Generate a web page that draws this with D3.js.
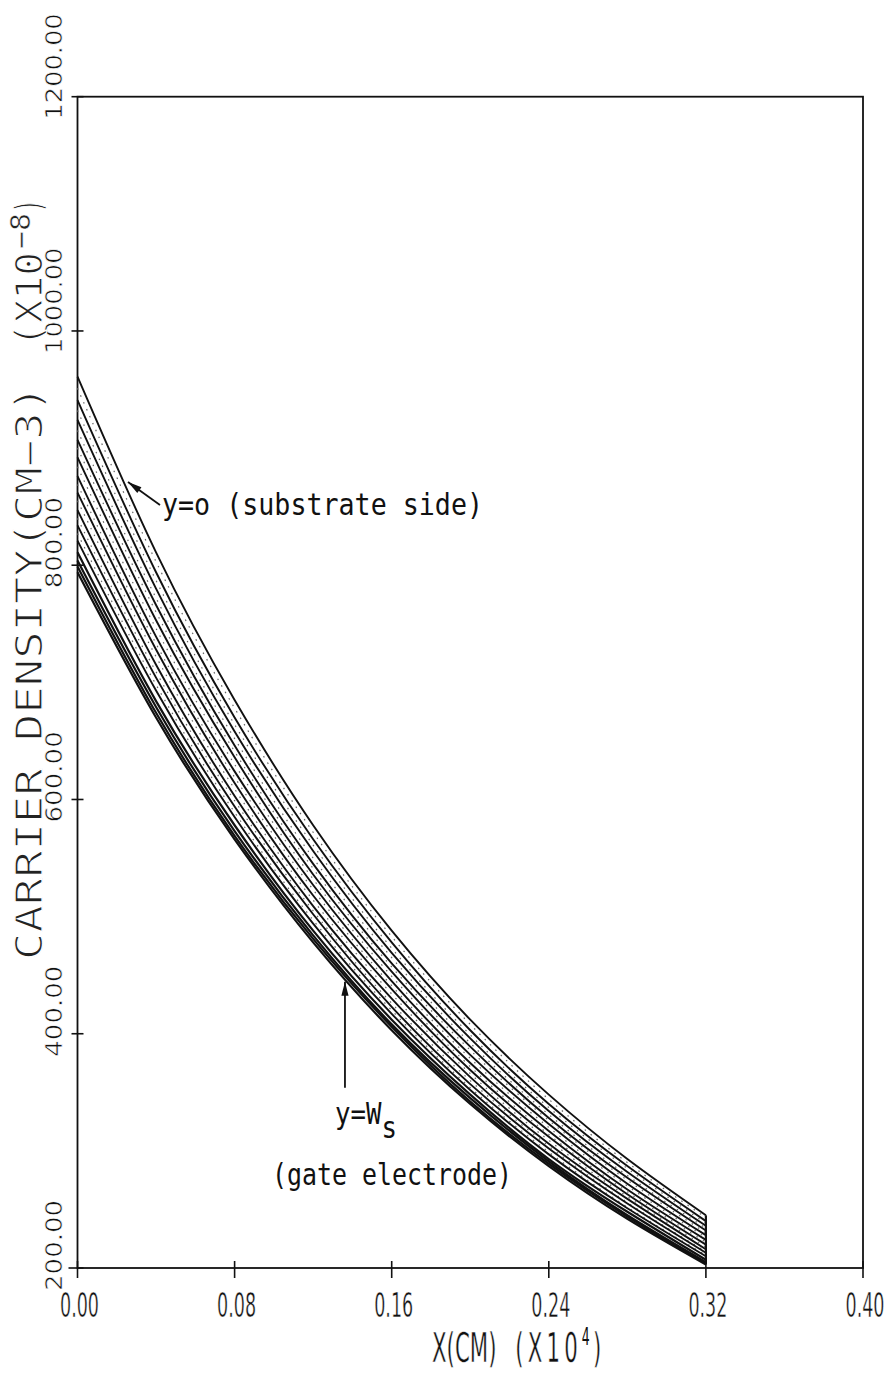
<!DOCTYPE html>
<html>
<head>
<meta charset="utf-8">
<script src="https://cdn.jsdelivr.net/npm/d3@7/dist/d3.min.js"></script>
<style>
  html, body { margin: 0; padding: 0; background: #fff; }
  svg { display: block; }
</style>
</head>
<body>
<svg id="chart" width="896" height="1374"></svg>
<script>
// Sample positions along the channel, X (cm, x10^4)
const xSamples = [0, 0.04, 0.08, 0.12, 0.16, 0.20, 0.24, 0.28, 0.32];

// Carrier density profiles (cm^-3, x10^-8), from y=0 (substrate side) down to y=Ws (gate electrode)
const curveY00 = [961, 811, 685, 578, 488, 412, 348, 293, 245];
const curveY01 = [941, 794, 670, 566, 478, 403, 340, 287, 240];
const curveY02 = [924, 780, 658, 556, 469, 396, 334, 282, 236];
const curveY03 = [907, 766, 646, 545, 460, 389, 328, 277, 232];
const curveY04 = [892, 753, 636, 536, 453, 382, 323, 272, 228];
const curveY05 = [876, 739, 624, 527, 445, 375, 317, 267, 224];
const curveY06 = [862, 728, 614, 518, 438, 369, 312, 263, 220];
const curveY07 = [847, 715, 603, 509, 430, 363, 306, 259, 216];
const curveY08 = [834, 704, 594, 502, 423, 357, 302, 255, 213];
const curveY09 = [821, 693, 585, 494, 417, 352, 297, 251, 210];
const curveY10 = [811, 684, 578, 488, 412, 348, 293, 248, 207];
const curveY11 = [804, 679, 573, 484, 408, 345, 291, 245, 205];
const curveY12 = [799, 674, 569, 481, 406, 342, 289, 244, 204];
const curveY13 = [794, 670, 566, 478, 403, 340, 287, 242, 203];
const solidCurves = [curveY00, curveY01, curveY02, curveY03, curveY04, curveY05, curveY06,
                     curveY07, curveY08, curveY09, curveY10, curveY11, curveY12, curveY13];

// Intermediate profiles, plotted dotted
const dotY00 = [951, 803, 678, 572, 483, 408, 344, 290, 243];
const dotY01 = [932, 787, 664, 561, 473, 399, 337, 285, 238];
const dotY02 = [915, 772, 652, 550, 465, 392, 331, 279, 234];
const dotY03 = [900, 760, 641, 541, 457, 386, 326, 275, 230];
const dotY04 = [884, 746, 630, 532, 449, 379, 320, 270, 226];
const dotY05 = [869, 733, 619, 523, 441, 372, 314, 265, 222];
const dotY06 = [855, 722, 609, 514, 434, 366, 309, 261, 218];
const dotY07 = [840, 709, 599, 505, 426, 360, 304, 256, 214];
const dotY08 = [827, 698, 589, 497, 420, 354, 299, 252, 211];
const dottedCurves = [dotY00, dotY01, dotY02, dotY03, dotY04, dotY05, dotY06, dotY07, dotY08];

// Axis ticks and labels
const xTickValues = [0, 0.08, 0.16, 0.24, 0.32, 0.40];
const xTickLabels = ["0.00", "0.08", "0.16", "0.24", "0.32", "0.40"];
const yTickValues = [200, 400, 600, 800, 1000, 1200];
const yTickLabels = ["200.00", "400.00", "600.00", "800.00", "1000.00", "1200.00"];

const svg = d3.select("#chart");
const x = d3.scaleLinear().domain([0, 0.40]).range([77.5, 863]);
const y = d3.scaleLinear().domain([200, 1200]).range([1268, 96.7]);

const ink = "#111";

// Thin-stroke plotter lettering: a white halo trims the glyph weight
function thin(sel, w) {
  return sel.attr("stroke", "#fff").attr("stroke-width", w).attr("paint-order", "normal");
}

// Frame
svg.append("rect")
  .attr("x", x(0)).attr("y", y(1200))
  .attr("width", x(0.40) - x(0)).attr("height", y(200) - y(1200))
  .attr("fill", "none").attr("stroke", ink).attr("stroke-width", 1.8);

// X ticks (cross the axis)
svg.append("g").selectAll("line").data(xTickValues).join("line")
  .attr("x1", d => x(d)).attr("x2", d => x(d))
  .attr("y1", y(200) - 7).attr("y2", y(200) + 10)
  .attr("stroke", ink).attr("stroke-width", 1.6);

// Y ticks
svg.append("g").selectAll("line").data(yTickValues).join("line")
  .attr("x1", d => x(0) - (d === 200 ? 9 : 6)).attr("x2", d => x(0) + 6)
  .attr("y1", d => y(d)).attr("y2", d => y(d))
  .attr("stroke", ink).attr("stroke-width", 1.6);

// X tick labels: tall condensed plotter digits
thin(svg.append("g").selectAll("text").data(xTickValues).join("text")
  .attr("x", d => x(d) + 2).attr("y", 1317)
  .attr("text-anchor", "middle")
  .attr("font-family", "DejaVu Sans")
  .attr("font-size", 34)
  .attr("textLength", 39).attr("lengthAdjust", "spacingAndGlyphs")
  .attr("fill", ink)
  .text((d, i) => xTickLabels[i]), 0.5);

// Y tick labels, written upward
thin(svg.append("g").selectAll("text").data(yTickValues).join("text")
  .attr("transform", d => `translate(62,${y(d) + 23}) rotate(-90)`)
  .attr("font-family", "DejaVu Sans")
  .attr("font-size", 23)
  .attr("textLength", (d, i) => yTickLabels[i].length * 15.2)
  .attr("lengthAdjust", "spacingAndGlyphs")
  .attr("fill", ink)
  .text((d, i) => yTickLabels[i]), 0.6);

// X axis title as one text run, condensed horizontally
const xTitle = thin(svg.append("text")
  .attr("transform", "translate(432,1362) scale(0.52,1)")
  .attr("font-family", "DejaVu Sans").attr("font-size", 41)
  .attr("fill", ink), 0.5);
xTitle.append("tspan").attr("x", 0).text("X(CM)");
xTitle.append("tspan").attr("x", 160).attr("letter-spacing", 8).text("(X10");
xTitle.append("tspan").attr("dy", -17).attr("font-size", 24).attr("stroke-width", 0).text("4");
xTitle.append("tspan").attr("dy", 17).attr("dx", 6).text(")");

// Y axis title, written upward; local x runs up the page
const yTitle = svg.append("g").attr("transform", "translate(42,0) rotate(-90)");
const yTitleFont = "DejaVu Sans Mono";
thin(yTitle.append("text")
  .attr("x", -960).attr("y", 0)
  .attr("font-family", yTitleFont).attr("font-size", 37)
  .attr("textLength", 575).attr("lengthAdjust", "spacingAndGlyphs")
  .attr("fill", "#222").style("white-space", "pre")
  .text("CARRIER DENSITY(CM\u22123)"), 1.2);
thin(yTitle.append("text")
  .attr("x", -347).attr("y", 0)
  .attr("font-family", yTitleFont).attr("font-size", 37)
  .attr("textLength", 95).attr("lengthAdjust", "spacingAndGlyphs")
  .attr("fill", "#222").text("(X10"), 1.2);
thin(yTitle.append("text")
  .attr("x", -249).attr("y", -12)
  .attr("font-family", yTitleFont).attr("font-size", 27)
  .attr("textLength", 36).attr("lengthAdjust", "spacingAndGlyphs")
  .attr("fill", "#222").text("\u22128"), 0.5);
thin(yTitle.append("text")
  .attr("x", -213).attr("y", 0)
  .attr("font-family", yTitleFont).attr("font-size", 37)
  .attr("textLength", 14).attr("lengthAdjust", "spacingAndGlyphs")
  .attr("fill", "#222").text(")"), 1.2);

// Profiles
const line = d3.line()
  .x((d, i) => x(xSamples[i]))
  .y(d => y(d))
  .curve(d3.curveNatural);

svg.append("g").selectAll("path").data(dottedCurves).join("path")
  .attr("d", line)
  .attr("fill", "none").attr("stroke", "#666")
  .attr("stroke-width", 1.2).attr("stroke-dasharray", "1.5,6");

svg.append("g").selectAll("path").data(solidCurves).join("path")
  .attr("d", line)
  .attr("fill", "none").attr("stroke", ink)
  .attr("stroke-width", (d, i) => i >= solidCurves.length - 4 ? 2.2 : 1.9);

// Closing stroke at the end of the profiles
const lastIdx = xSamples.length - 1;
svg.append("line")
  .attr("x1", x(xSamples[lastIdx])).attr("x2", x(xSamples[lastIdx]))
  .attr("y1", y(curveY00[lastIdx])).attr("y2", y(curveY13[lastIdx]))
  .attr("stroke", ink).attr("stroke-width", 2.2);

// Annotation arrows (data coordinates)
function arrow(from, to) {
  const x0 = x(from[0]), y0 = y(from[1]), x1 = x(to[0]), y1 = y(to[1]);
  svg.append("line")
    .attr("x1", x0).attr("y1", y0).attr("x2", x1).attr("y2", y1)
    .attr("stroke", ink).attr("stroke-width", 1.8);
  const ang = Math.atan2(y1 - y0, x1 - x0);
  const len = 14, half = 3.6;
  const bx = x1 - len * Math.cos(ang), by = y1 - len * Math.sin(ang);
  const px = -Math.sin(ang) * half, py = Math.cos(ang) * half;
  svg.append("path")
    .attr("d", `M${x1},${y1}L${bx + px},${by + py}L${bx - px},${by - py}Z`)
    .attr("fill", ink);
}
arrow([0.042, 851.5], [0.0257, 871]);
arrow([0.1362, 353.8], [0.1362, 444.3]);

// Annotation labels (condensed typewriter lettering)
const mono = "DejaVu Sans Mono";
svg.append("text")
  .attr("x", 162).attr("y", 515)
  .attr("font-family", mono).attr("font-size", 31)
  .attr("textLength", 321).attr("lengthAdjust", "spacingAndGlyphs")
  .attr("fill", ink).style("white-space", "pre")
  .text("y=o (substrate side)");

const wsLabel = svg.append("text")
  .attr("transform", "translate(335,1124) scale(0.83,1)")
  .attr("font-family", mono).attr("font-size", 31)
  .attr("fill", ink);
wsLabel.append("tspan").text("y=W");
wsLabel.append("tspan").attr("dy", 14).text("s");

svg.append("text")
  .attr("x", 272).attr("y", 1185)
  .attr("font-family", mono).attr("font-size", 31)
  .attr("textLength", 240).attr("lengthAdjust", "spacingAndGlyphs")
  .attr("fill", ink).style("white-space", "pre")
  .text("(gate electrode)");
</script>
</body>
</html>
